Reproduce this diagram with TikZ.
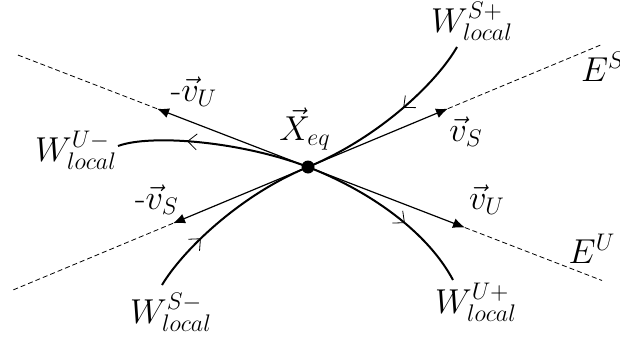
\documentclass[tikz,border=0pt]{standalone}
\usetikzlibrary{arrows.meta,decorations.markings}

\begin{document}
\begin{tikzpicture}[x=0.5pt,y=-0.5pt,
    dot/.style={circle,fill=black,inner sep=0pt,minimum size=6.5pt},
    lab/.style={font=\LARGE,inner sep=0pt},
    eig/.style={dashed,line width=0.4pt,dash pattern=on 2.5pt off 1.5pt},
    vec/.style={-{Latex[length=6pt,width=5pt]},line width=0.6pt},
    manif/.style={line width=1pt,postaction={decorate},decoration={markings,
      mark=at position #1 with {\arrow{Straight Barb[length=4.5pt,width=8pt,line width=0.4pt]}}}}]
    \useasboundingbox (0,0) rectangle (620,337);
    \node[dot](xeq) at (308,167){};
    \node[lab](xlab) at (305,129){$\vec{X}_{eq}$};
    % eigen directions
    \coordinate (vs) at (448,108.6);
    \coordinate (mvs) at (173,223.3);
    \coordinate (vu) at (465,227.6);
    \coordinate (mvu) at (157,108.7);
    \coordinate (es1) at (603,44);
    \coordinate (es2) at (13,290);
    \coordinate (eu1) at (602,280.5);
    \coordinate (eu2) at (16,54.3);
    \draw[eig](vs)--(es1);\draw[eig](mvs)--(es2);
    \draw[eig](vu)--(eu1);\draw[eig](mvu)--(eu2);
    \draw[vec](xeq.center)--(vs);\draw[vec](xeq.center)--(mvs);
    \draw[vec](xeq.center)--(vu);\draw[vec](xeq.center)--(mvu);
    % local manifolds
    \coordinate (wsp) at (457,47);
    \coordinate (wsm) at (162,285);
    \coordinate (wup) at (453,280);
    \coordinate (wum) at (118,146);
    \draw[manif=0.42](wsp) .. controls (437,82) and (380,137) .. (xeq.center);
    \draw[manif=0.32](wsm) .. controls (183,250) and (240,195) .. (xeq.center);
    \draw[manif=0.6](xeq.center) .. controls (372,192) and (428,233) .. (wup);
    \draw[manif=0.64](xeq.center) .. controls (240,141) and (150,134) .. (wum);
    % labels
    \node[lab](lwsp) at (472,21){$W^{S+}_{local}$};
    \node[lab](lwsm) at (171,312){$W^{S-}_{local}$};
    \node[lab](lwup) at (476,302){$W^{U+}_{local}$};
    \node[lab](lwum) at (76,150){$W^{U-}_{local}$};
    \node[lab](les) at (603,67){$E^S$};
    \node[lab](leu) at (592,249){$E^U$};
    \node[lab](lvs) at (466,132){$\vec{v}_S$};
    \node[lab](lmvs) at (157,200){-$\vec{v}_S$};
    \node[lab](lvu) at (487,200){$\vec{v}_U$};
    \node[lab](lmvu) at (194,92){-$\vec{v}_U$};
\end{tikzpicture}
\end{document}
